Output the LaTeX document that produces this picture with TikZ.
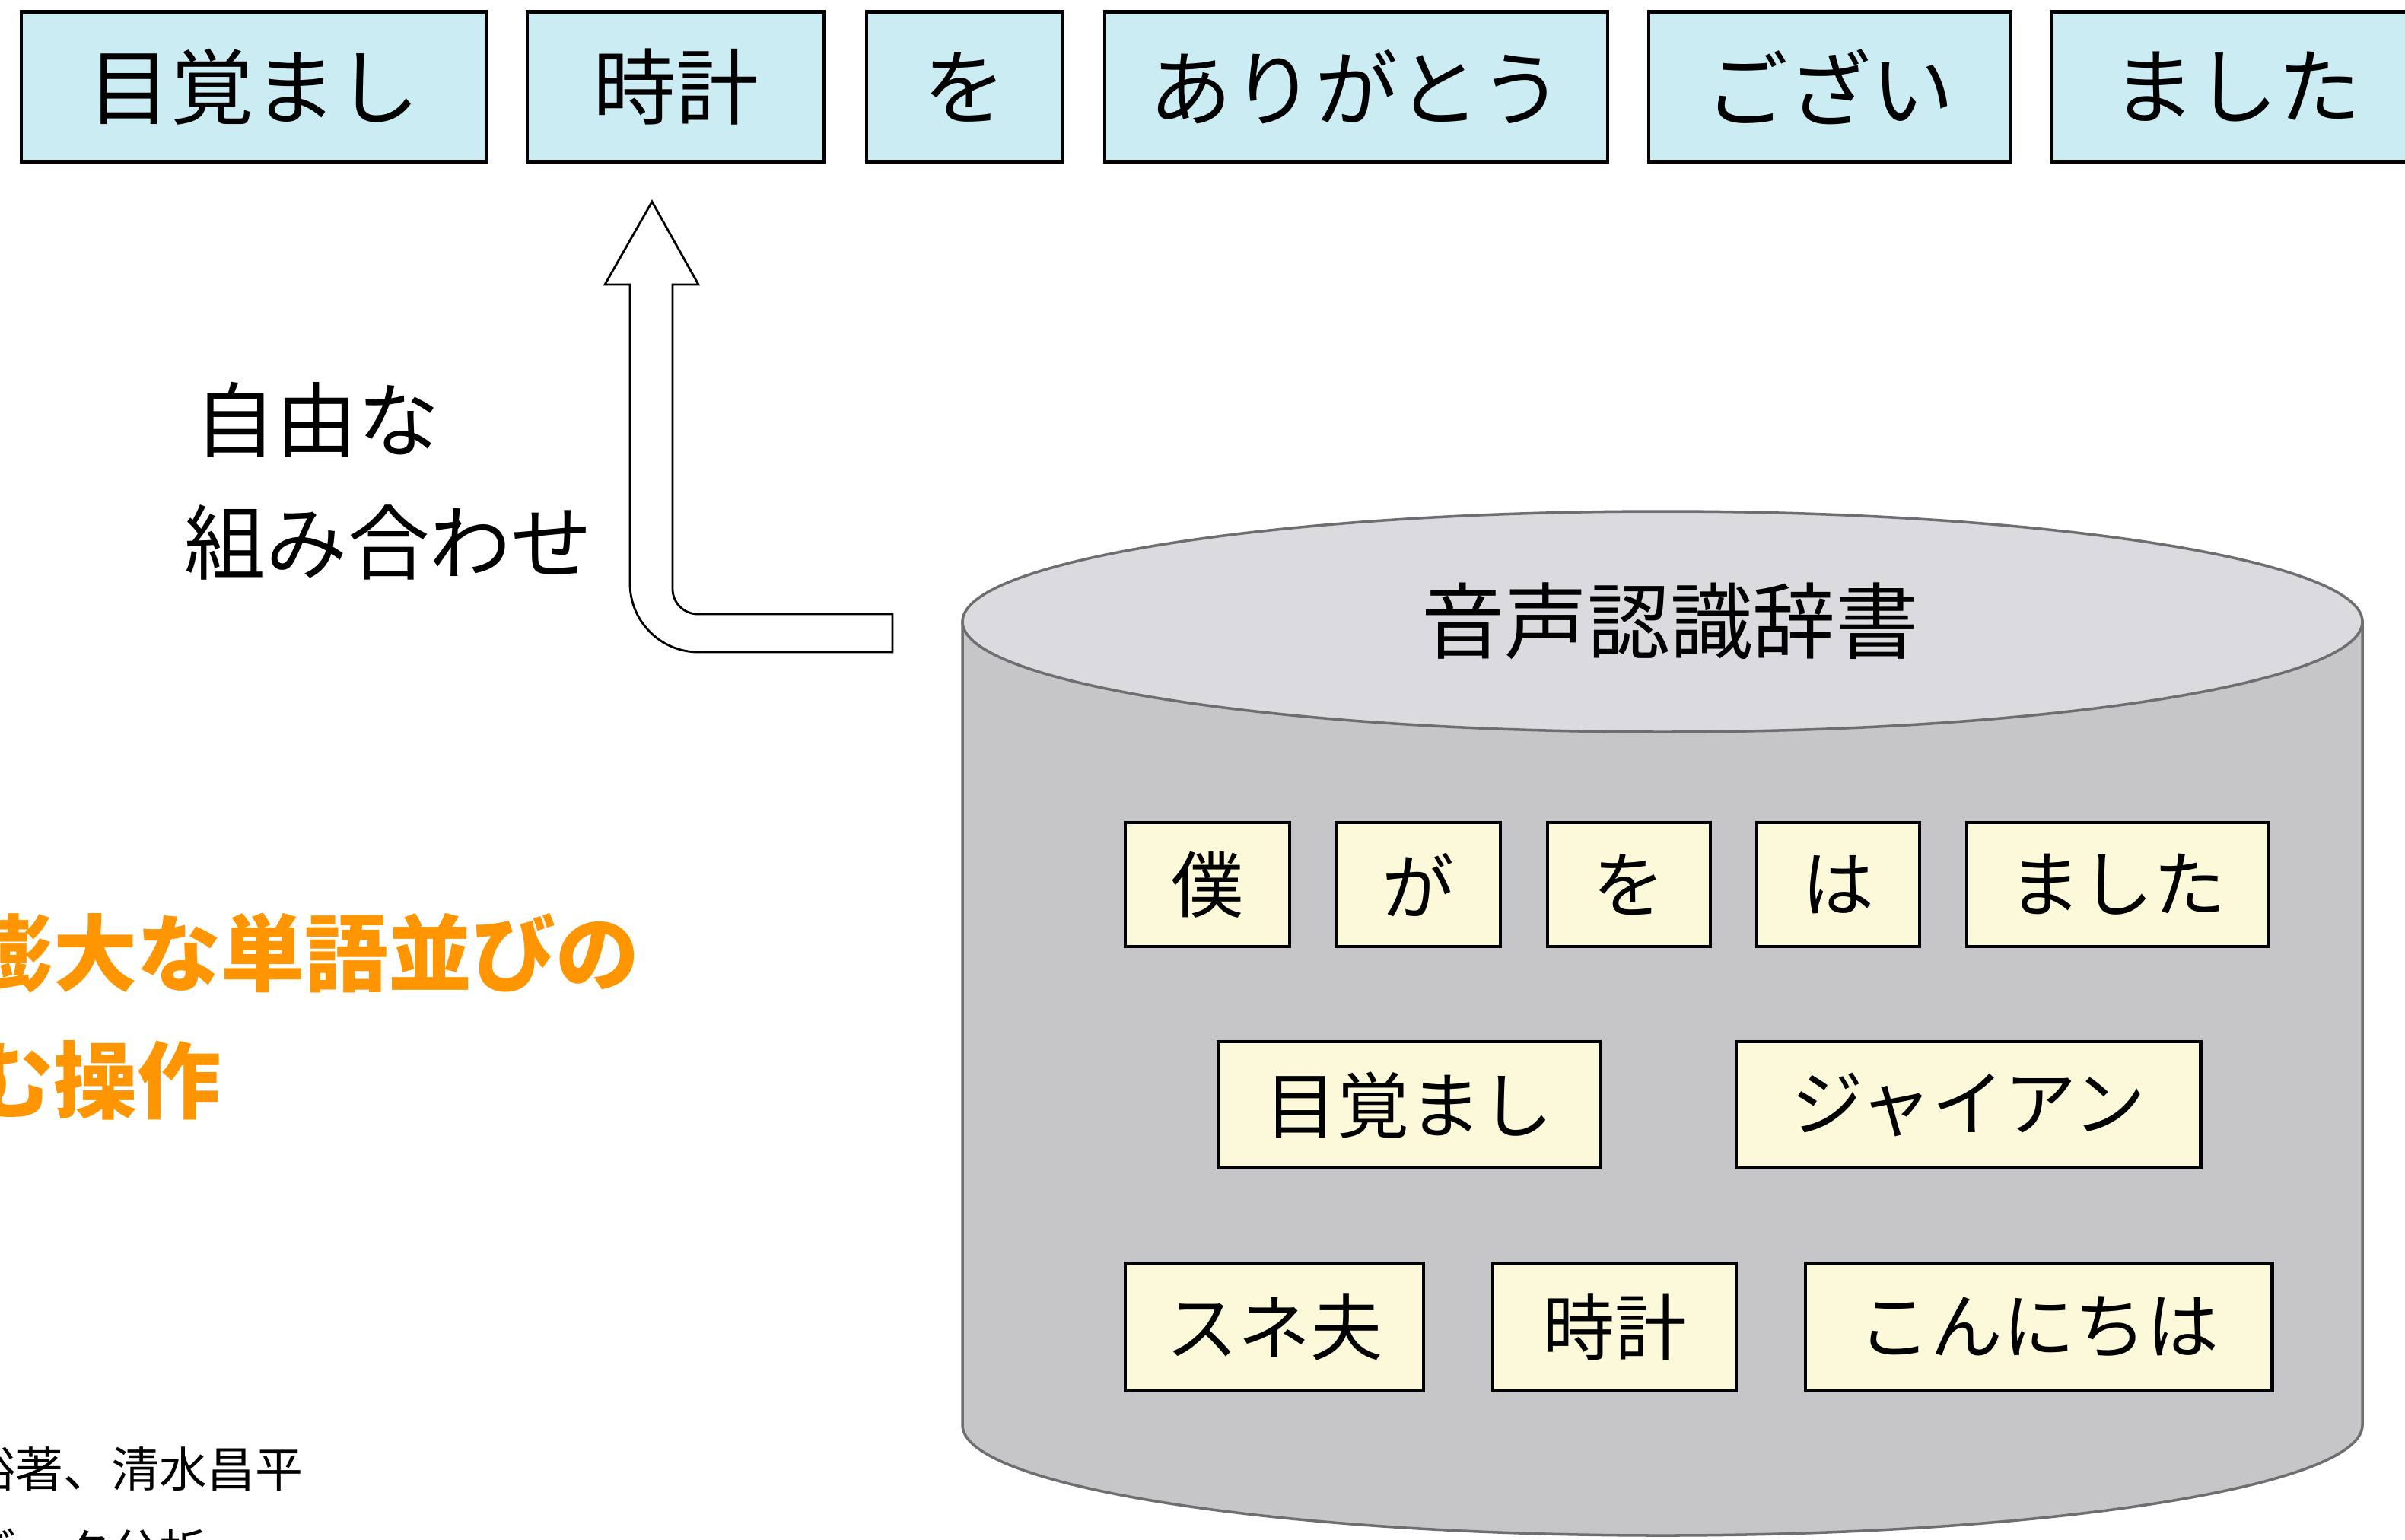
\documentclass[tikz,border=0pt]{standalone}
\usepackage{fontspec}
\setmainfont{Noto Sans CJK JP}
\definecolor{topcyan}{RGB}{204,236,243}
\definecolor{cream}{RGB}{251,249,218}
\definecolor{cylbody}{RGB}{198,198,200}
\definecolor{cyltop}{RGB}{219,219,223}
\definecolor{cylline}{RGB}{110,110,112}
\definecolor{accent}{RGB}{255,149,0}
\tikzset{
  topbox/.style={draw=black, line width=1.4pt, fill=topcyan, inner sep=0pt,
    font=\fontsize{31}{36}\selectfont},
  dictbox/.style={draw=black, line width=1.4pt, fill=cream, inner sep=0pt,
    font=\fontsize{27}{32}\selectfont},
  plain/.style={inner sep=0pt, anchor=west},
  bigarrow/.style={draw=black, line width=0.8pt, fill=white, line join=miter}
}
\begin{document}
\begin{tikzpicture}[x=1cm,y=-1cm]
\useasboundingbox (0,0) rectangle (31.61,20.23);
\clip (0,0) rectangle (31.61,20.23);
\fill[white] (0,0) rectangle (31.61,20.23);

% top row of words
\node[topbox, minimum width=6.11cm, minimum height=1.97cm] (t1) at (3.335,1.14) {目覚まし};
\node[topbox, minimum width=3.90cm, minimum height=1.97cm] (t2) at (8.88,1.14) {時計};
\node[topbox, minimum width=2.58cm, minimum height=1.97cm] (t3) at (12.68,1.14) {を};
\node[topbox, minimum width=6.61cm, minimum height=1.97cm] (t4) at (17.825,1.14) {ありがとう};
\node[topbox, minimum width=4.76cm, minimum height=1.97cm] (t5) at (24.05,1.14) {ござい};
\node[topbox, minimum width=4.86cm, minimum height=1.97cm] (t6) at (29.40,1.14) {ました};

% bent hollow arrow
\draw[bigarrow] (8.57,2.65) -- (9.18,3.74) -- (8.84,3.74) -- (8.84,7.74)
  .. controls (8.84,7.922) and (8.988,8.07) .. (9.17,8.07)
  -- (11.73,8.07) -- (11.73,8.57) -- (9.18,8.57)
  .. controls (8.683,8.57) and (8.28,8.167) .. (8.28,7.67)
  -- (8.28,3.74) -- (7.95,3.74) -- cycle;

% arrow label
\node[plain, font=\fontsize{30.5}{36}\selectfont] (lab1) at (2.55,5.52) {自由な};
\node[plain, font=\fontsize{30.5}{36}\selectfont] (lab2) at (2.42,7.13) {組み合わせ};

% orange text
\node[plain, text=accent, font=\fontsize{31.3}{37}\selectfont\bfseries] (or1) at (-0.40,12.53) {膨大な単語並びの};
\node[plain, text=accent, font=\fontsize{31.3}{37}\selectfont\bfseries] (or2) at (-0.40,14.20) {む操作};

% citation
\node[plain, font=\fontsize{17.9}{21}\selectfont] (c1) at (-0.43,19.31) {裕著、清水昌平};
\node[plain, font=\fontsize{17.9}{21}\selectfont] (c2) at (-0.43,20.38) {データ分析};

% cylinder
\path[fill=cylbody, draw=cylline, line width=1pt]
  (12.65,8.17) -- (12.65,18.73)
  arc[start angle=180, end angle=360, x radius=9.2cm, y radius=1.45cm]
  -- (31.05,8.17) -- cycle;
\draw[fill=cyltop, draw=cylline, line width=1pt] (21.85,8.17) ellipse [x radius=9.2cm, y radius=1.45cm];
\node[inner sep=0pt, font=\fontsize{31}{36}\selectfont] (dict) at (21.95,8.16) {音声認識辞書};

% dictionary words
\node[dictbox, minimum width=2.16cm, minimum height=1.63cm] (d1) at (15.87,11.625) {僕};
\node[dictbox, minimum width=2.16cm, minimum height=1.63cm] (d2) at (18.64,11.625) {が};
\node[dictbox, minimum width=2.14cm, minimum height=1.63cm] (d3) at (21.41,11.625) {を};
\node[dictbox, minimum width=2.14cm, minimum height=1.63cm] (d4) at (24.16,11.625) {は};
\node[dictbox, minimum width=3.96cm, minimum height=1.63cm] (d5) at (27.83,11.625) {ました};
\node[dictbox, minimum width=5.02cm, minimum height=1.66cm] (d6) at (18.52,14.52) {目覚まし};
\node[dictbox, minimum width=6.10cm, minimum height=1.66cm] (d7) at (25.87,14.52) {ジャイアン};
\node[dictbox, minimum width=3.92cm, minimum height=1.68cm] (d8) at (16.75,17.44) {スネ夫};
\node[dictbox, minimum width=3.20cm, minimum height=1.68cm] (d9) at (21.22,17.44) {時計};
\node[dictbox, minimum width=6.13cm, minimum height=1.68cm] (d10) at (26.795,17.44) {こんにちは};
\end{tikzpicture}
\end{document}
